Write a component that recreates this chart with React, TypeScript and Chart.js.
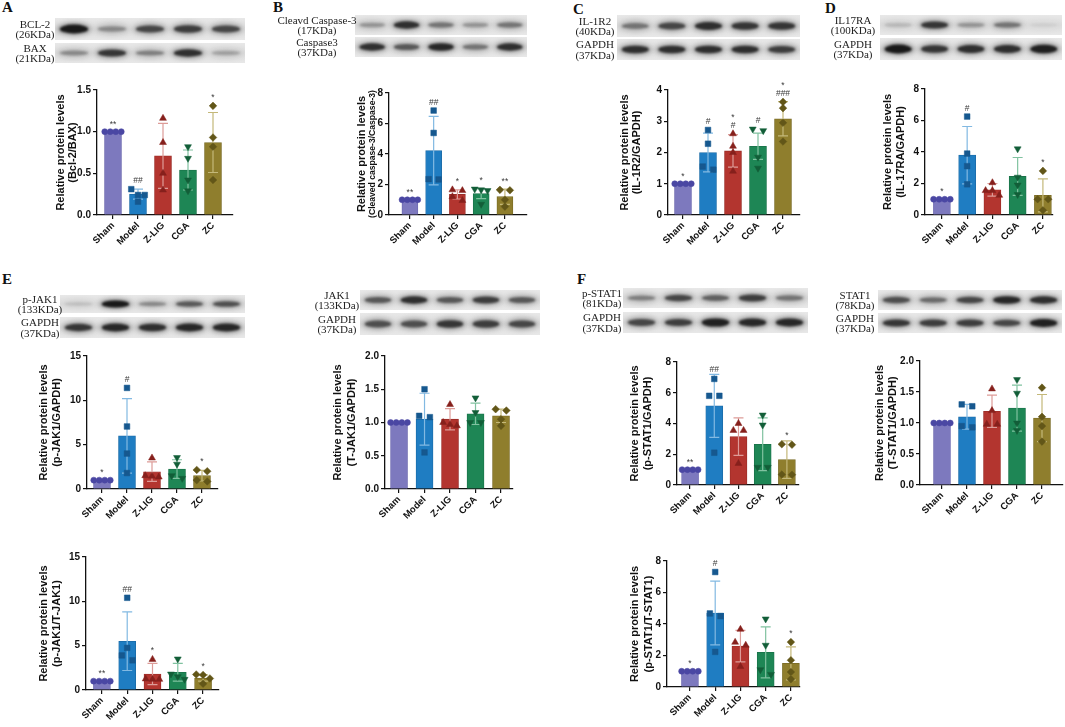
import React, { useEffect, useRef } from "react";
import { Chart, registerables } from "chart.js";
Chart.register(...registerables);

const FONT = "'Liberation Sans', Arial, Helvetica, sans-serif";
const SERIF = "'Liberation Serif', 'Times New Roman', Times, serif";

// ---------- shared categories & styles ----------
const groups = ["Sham", "Model", "Z-LIG", "CGA", "ZC"];
const barColors = ["#7d79be", "#1f7dc2", "#b3352f", "#1e8655", "#8f7e2d"];
const barEdges = ["#6a66ad", "#1a6aa6", "#9a2c27", "#197048", "#786a25"];
const pointColors = ["#4a47a3", "#16588f", "#86201c", "#125e38", "#625618"];
const errColors = ["#aeabd9", "#82b9e2", "#dd9c98", "#80c2a0", "#c4b879"];
const pointStyles = ["circle", "rect", "triangle", "triangle", "rectRot"];
const pointRotations = [0, 0, 0, 180, 0];
const pointRadii = [3, 4, 4, 4, 3.8];

// ---------- A: Bcl-2 / BAX ----------
const bclBaxMeans = [1.0, 0.25, 0.71, 0.54, 0.87];
const bclBaxSD = [0, 0.06, 0.39, 0.24, 0.36];
const bclBaxPoints = [[1, 1, 1, 1], [0.31, 0.24, 0.24, 0.16], [1.16, 0.87, 0.5, 0.3], [0.82, 0.68, 0.42, 0.29], [1.31, 0.93, 0.82, 0.42]];
const bclBaxSig = ["**", "##", "", "", "*"];
const bclBaxTicks = ["0.0", "0.5", "1.0", "1.5"];

// ---------- B: cleaved caspase-3 / caspase-3 ----------
const casMeans = [1.0, 4.22, 1.35, 1.4, 1.2];
const casSD = [0.03, 2.25, 0.3, 0.32, 0.5];
const casPoints = [[1, 1, 1, 1], [6.85, 5.38, 2.33, 2.35], [1.65, 1.6, 1.2, 0.95], [1.7, 1.65, 1.6, 0.7], [1.65, 1.62, 1.0, 0.55]];
const casSig = ["**", "##", "*", "*", "**"];
const casTicks = ["0", "2", "4", "6", "8"];

// ---------- C: IL-1R2 / GAPDH ----------
const il1r2Means = [1.0, 2.0, 2.05, 2.2, 3.08];
const il1r2SD = [0.02, 0.62, 0.52, 0.42, 0.55];
const il1r2Points = [[1, 1, 1, 1], [2.72, 2.28, 1.55, 1.45], [2.6, 2.2, 2.0, 1.4], [2.75, 2.7, 1.85, 1.5], [3.62, 3.42, 2.95, 2.35]];
const il1r2Sig = ["*", "#", "*\n#", "#", "*\n###"];
const il1r2Ticks = ["0", "1", "2", "3", "4"];

// ---------- D: IL-17RA / GAPDH ----------
const il17Means = [1.0, 3.8, 1.6, 2.45, 1.25];
const il17SD = [0.03, 1.82, 0.4, 1.2, 1.05];
const il17Points = [[1, 1, 1, 1], [6.25, 3.9, 3.1, 1.95], [2.05, 1.55, 1.55, 1.25], [4.2, 2.4, 1.9, 1.3], [2.8, 1.0, 1.0, 0.3]];
const il17Sig = ["*", "#", "", "", "*"];
const il17Ticks = ["0", "2", "4", "6", "8"];

// ---------- E: p-JAK1 / GAPDH ----------
const pJakMeans = [1.0, 6.0, 1.95, 2.25, 1.5];
const pJakSD = [0.05, 4.2, 1.1, 1.05, 0.6];
const pJakPoints = [[1, 1, 1, 1], [11.4, 7.05, 4.0, 1.8], [3.5, 1.5, 1.45, 1.35], [3.55, 2.8, 1.5, 1.2], [2.15, 2.0, 1.0, 0.85]];
const pJakSig = ["*", "#", "", "", "*"];
const pJakTicks = ["0", "5", "10", "15"];

// ---------- E: T-JAK1 / GAPDH ----------
const tJakMeans = [1.0, 1.05, 1.05, 1.13, 1.1];
const tJakSD = [0, 0.39, 0.16, 0.16, 0.1];
const tJakPoints = [[1, 1, 1, 1], [1.5, 1.1, 1.08, 0.55], [1.27, 1.0, 0.97, 0.95], [1.37, 1.15, 1.0, 1.0], [1.2, 1.18, 1.05, 0.95]];
const tJakSig = ["", "", "", "", ""];
const tJakTicks = ["0.0", "0.5", "1.0", "1.5", "2.0"];

// ---------- E: p-JAK1 / T-JAK1 ----------
const jakRatioMeans = [1.0, 5.5, 1.8, 2.0, 1.35];
const jakRatioSD = [0.05, 3.3, 1.2, 1.0, 0.35];
const jakRatioPoints = [[1, 1, 1, 1], [10.4, 4.75, 3.9, 3.35], [3.45, 1.25, 1.2, 1.2], [3.5, 1.8, 1.5, 1.2], [1.75, 1.7, 1.3, 0.7]];
const jakRatioSig = ["**", "##", "*", "", "*"];
const jakRatioTicks = ["0", "5", "10", "15"];

// ---------- F: p-STAT1 / GAPDH ----------
const pStatMeans = [1.0, 5.15, 3.15, 2.65, 1.65];
const pStatSD = [0.03, 2.05, 1.22, 1.72, 1.22];
const pStatPoints = [[1, 1, 1, 1], [6.9, 5.8, 5.8, 2.1], [4.0, 3.55, 3.55, 1.4], [4.55, 3.9, 1.15, 1.15], [2.65, 2.62, 0.68, 0.67]];
const pStatSig = ["**", "##", "", "", "*"];
const pStatTicks = ["0", "2", "4", "6", "8"];

// ---------- F: T-STAT1 / GAPDH ----------
const tStatMeans = [1.0, 1.1, 1.19, 1.24, 1.08];
const tStatSD = [0, 0.2, 0.26, 0.37, 0.38];
const tStatPoints = [[1, 1, 1, 1], [1.3, 1.27, 0.95, 0.93], [1.55, 1.2, 0.98, 0.98], [1.7, 1.48, 1.0, 0.88], [1.57, 1.1, 0.95, 0.7]];
const tStatSig = ["", "", "", "", ""];
const tStatTicks = ["0.0", "0.5", "1.0", "1.5", "2.0"];

// ---------- F: p-STAT1 / T-STAT1 ----------
const statRatioMeans = [1.0, 4.7, 2.6, 2.2, 1.5];
const statRatioSD = [0.05, 2.02, 1.0, 1.62, 1.05];
const statRatioPoints = [[1, 1, 1, 1], [7.3, 4.67, 4.5, 2.23], [3.66, 2.84, 2.65, 1.3], [4.32, 2.65, 1.1, 0.8], [2.85, 1.7, 0.95, 0.5]];
const statRatioSig = ["*", "#", "", "", "*"];
const statRatioTicks = ["0", "2", "4", "6", "8"];

// ---------- western blot band intensities (Sham, Model, Z-LIG, CGA, ZC) ----------
const bcl2Bands = [1.0, 0.35, 0.7, 0.75, 0.7];
const baxBands = [0.35, 0.8, 0.4, 0.85, 0.25];
const cleavedCasBands = [0.3, 0.85, 0.45, 0.3, 0.45];
const caspase3Bands = [0.85, 0.6, 0.9, 0.45, 0.85];
const il1r2Bands = [0.45, 0.7, 0.85, 0.8, 0.8];
const gapdhCBands = [0.85, 0.85, 0.85, 0.85, 0.75];
const il17raBands = [0.15, 0.8, 0.3, 0.45, 0.05];
const gapdhDBands = [1.0, 0.8, 0.85, 0.85, 0.95];
const pJak1Bands = [0.12, 1.0, 0.35, 0.6, 0.65];
const gapdhE1Bands = [0.8, 0.9, 0.85, 0.9, 0.9];
const jak1Bands = [0.6, 0.85, 0.6, 0.75, 0.6];
const gapdhE2Bands = [0.65, 0.65, 0.8, 0.75, 0.7];
const pStat1Bands = [0.4, 0.7, 0.55, 0.75, 0.45];
const gapdhF1Bands = [0.7, 0.75, 0.95, 0.9, 0.9];
const stat1Bands = [0.65, 0.5, 0.7, 0.9, 0.85];
const gapdhF2Bands = [0.8, 0.75, 0.75, 0.7, 0.95];

// ---------- layout ----------
type Box = { tx: number[]; ax: number; ar: number; ty: number; by: number; xmin: number; xmax: number; bw: number };
type Cfg = { title: string[]; means: number[]; sds: number[]; pts: number[][]; sig: string[]; ticks: string[]; box: Box };

const charts: Cfg[] = [
  { title: ["Relative protein levels", "(Bcl-2/BAX)"], means: bclBaxMeans, sds: bclBaxSD, pts: bclBaxPoints, sig: bclBaxSig, ticks: bclBaxTicks,
    box: { tx: [61, 73], ax: 97, ar: 233, ty: 90, by: 215, xmin: 0.36, xmax: 5.8, bw: 17 } },
  { title: ["Relative protein levels", "(Cleaved caspase-3/Caspase-3)"], means: casMeans, sds: casSD, pts: casPoints, sig: casSig, ticks: casTicks,
    box: { tx: [362, 373], ax: 389, ar: 527, ty: 93, by: 215, xmin: 0.12, xmax: 5.93, bw: 16 } },
  { title: ["Relative protein levels", "(IL-1R2/GAPDH)"], means: il1r2Means, sds: il1r2SD, pts: il1r2Points, sig: il1r2Sig, ticks: il1r2Ticks,
    box: { tx: [625, 637], ax: 668, ar: 800, ty: 90, by: 215, xmin: 0.4, xmax: 5.68, bw: 17 } },
  { title: ["Relative protein levels", "(IL-17RA/GAPDH)"], means: il17Means, sds: il17SD, pts: il17Points, sig: il17Sig, ticks: il17Ticks,
    box: { tx: [888, 901], ax: 925, ar: 1053, ty: 89, by: 215, xmin: 0.33, xmax: 5.4, bw: 17 } },
  { title: ["Relative protein levels", "(p-JAK1/GAPDH)"], means: pJakMeans, sds: pJakSD, pts: pJakPoints, sig: pJakSig, ticks: pJakTicks,
    box: { tx: [44, 57], ax: 87, ar: 218, ty: 356, by: 489, xmin: 0.4, xmax: 5.64, bw: 17 } },
  { title: ["Relative protein levels", "(T-JAK1/GAPDH)"], means: tJakMeans, sds: tJakSD, pts: tJakPoints, sig: tJakSig, ticks: tJakTicks,
    box: { tx: [338, 352], ax: 385, ar: 513, ty: 356, by: 489, xmin: 0.45, xmax: 5.47, bw: 17 } },
  { title: ["Relative protein levels", "(p-STAT1/GAPDH)"], means: pStatMeans, sds: pStatSD, pts: pStatPoints, sig: pStatSig, ticks: pStatTicks,
    box: { tx: [635, 648], ax: 677, ar: 799, ty: 362, by: 485, xmin: 0.46, xmax: 5.5, bw: 17 } },
  { title: ["Relative protein levels", "(T-STAT1/GAPDH)"], means: tStatMeans, sds: tStatSD, pts: tStatPoints, sig: tStatSig, ticks: tStatTicks,
    box: { tx: [880, 893], ax: 920, ar: 1063, ty: 361, by: 485, xmin: 0.12, xmax: 5.84, bw: 17 } },
  { title: ["Relative protein levels", "(p-JAK1/T-JAK1)"], means: jakRatioMeans, sds: jakRatioSD, pts: jakRatioPoints, sig: jakRatioSig, ticks: jakRatioTicks,
    box: { tx: [44, 57], ax: 86, ar: 219, ty: 557, by: 690, xmin: 0.37, xmax: 5.63, bw: 17 } },
  { title: ["Relative protein levels", "(p-STAT1/T-STAT1)"], means: statRatioMeans, sds: statRatioSD, pts: statRatioPoints, sig: statRatioSig, ticks: statRatioTicks,
    box: { tx: [635, 649], ax: 667, ar: 800, ty: 561, by: 687, xmin: 0.09, xmax: 5.36, bw: 17 } },
];

type Row = { x: number; y: number; w: number; h: number; bands: number[]; label: string[]; lx: number };
const blotRows: Row[] = [
  { x: 55, y: 18, w: 190, h: 22, bands: bcl2Bands, label: ["BCL-2", "(26KDa)"], lx: 35 },
  { x: 55, y: 43, w: 190, h: 20, bands: baxBands, label: ["BAX", "(21KDa)"], lx: 35 },
  { x: 355, y: 15, w: 172, h: 20, bands: cleavedCasBands, label: ["Cleavd Caspase-3", "(17KDa)"], lx: 317 },
  { x: 355, y: 37, w: 172, h: 20, bands: caspase3Bands, label: ["Caspase3", "(37KDa)"], lx: 317 },
  { x: 617, y: 15, w: 183, h: 22, bands: il1r2Bands, label: ["IL-1R2", "(40KDa)"], lx: 595 },
  { x: 617, y: 39, w: 183, h: 21, bands: gapdhCBands, label: ["GAPDH", "(37KDa)"], lx: 595 },
  { x: 880, y: 15, w: 182, h: 20, bands: il17raBands, label: ["IL17RA", "(100KDa)"], lx: 853 },
  { x: 880, y: 38, w: 182, h: 22, bands: gapdhDBands, label: ["GAPDH", "(37KDa)"], lx: 853 },
  { x: 60, y: 295, w: 185, h: 18, bands: pJak1Bands, label: ["p-JAK1", "(133KDa)"], lx: 40 },
  { x: 60, y: 317, w: 185, h: 21, bands: gapdhE1Bands, label: ["GAPDH", "(37KDa)"], lx: 40 },
  { x: 360, y: 290, w: 180, h: 20, bands: jak1Bands, label: ["JAK1", "(133KDa)"], lx: 337 },
  { x: 360, y: 313, w: 180, h: 22, bands: gapdhE2Bands, label: ["GAPDH", "(37KDa)"], lx: 337 },
  { x: 623, y: 288, w: 185, h: 20, bands: pStat1Bands, label: ["p-STAT1", "(81KDa)"], lx: 602 },
  { x: 623, y: 312, w: 185, h: 21, bands: gapdhF1Bands, label: ["GAPDH", "(37KDa)"], lx: 602 },
  { x: 878, y: 290, w: 184, h: 20, bands: stat1Bands, label: ["STAT1", "(78KDa)"], lx: 855 },
  { x: 878, y: 313, w: 184, h: 20, bands: gapdhF2Bands, label: ["GAPDH", "(37KDa)"], lx: 855 },
];

const panelLetters = [
  { t: "A", x: 2, y: 0 }, { t: "B", x: 273, y: 0 }, { t: "C", x: 573, y: 1.5 },
  { t: "D", x: 825, y: 0.5 }, { t: "E", x: 2, y: 272 }, { t: "F", x: 577, y: 272 },
];

// horizontal spreading of coincident points (beeswarm-like)
function spread(vals: number[], unitPx: number): number[] {
  const order = vals.map((_, i) => i).sort((a, b) => vals[b] - vals[a]);
  const off = new Array(vals.length).fill(0);
  let cluster: number[] = [];
  const flush = () => {
    const n = cluster.length;
    const sp = n === 2 ? 0.42 : n === 3 ? 0.27 : 0.22;
    cluster.forEach((id, k) => { off[id] = (k - (n - 1) / 2) * sp; });
    cluster = [];
  };
  order.forEach((id) => {
    if (cluster.length && Math.abs(vals[cluster[0]] - vals[id]) * unitPx > 6) flush();
    cluster.push(id);
  });
  flush();
  return off;
}

function BarChart({ cfg }: { cfg: Cfg }) {
  const ref = useRef<HTMLCanvasElement>(null);
  const PT = 20, XH = 42, PR = 5;
  const b = cfg.box;
  const left = Math.floor(Math.min(...b.tx) - 10);
  const yW = b.ax - left;
  const width = Math.ceil(yW + b.ar - b.ax + PR);
  const top = b.ty - PT;
  const height = PT + b.by - b.ty + XH;

  useEffect(() => {
    const yVals = cfg.ticks.map(Number);
    const yMax = yVals[yVals.length - 1];
    const unitPx = (b.by - b.ty) / yMax;
    const datasets: any[] = cfg.pts.map((vals, g) => {
      const off = spread(vals, unitPx);
      return {
        type: "scatter",
        data: vals.map((v, k) => ({ x: g + 1 + off[k], y: v })),
        pointStyle: pointStyles[g],
        rotation: pointRotations[g],
        pointRadius: pointRadii[g],
        backgroundColor: pointColors[g],
        borderColor: pointColors[g],
        borderWidth: 0.5,
        order: 0,
        clip: false,
      };
    });
    datasets.push({
      type: "bar",
      data: cfg.means.map((m, i) => ({ x: i + 1, y: m })),
      backgroundColor: barColors,
      borderColor: barEdges,
      borderWidth: 0.8,
      barThickness: b.bw,
      order: 10,
    });

    const decor = {
      id: "decor",
      afterDatasetDraw(chart: any, args: any) {
        if (args.meta.type !== "bar") return;
        const { ctx, scales } = chart;
        ctx.save();
        ctx.lineWidth = 1.2;
        cfg.means.forEach((m, i) => {
          const sd = cfg.sds[i];
          if (!(sd > 0.001)) return;
          const x = scales.x.getPixelForValue(i + 1);
          const y1 = scales.y.getPixelForValue(m + sd);
          const y0 = scales.y.getPixelForValue(Math.max(0, m - sd));
          ctx.strokeStyle = errColors[i];
          ctx.beginPath();
          ctx.moveTo(x, y0); ctx.lineTo(x, y1);
          ctx.moveTo(x - 5, y1); ctx.lineTo(x + 5, y1);
          ctx.moveTo(x - 5, y0); ctx.lineTo(x + 5, y0);
          ctx.stroke();
        });
        ctx.restore();
      },
      afterDatasetsDraw(chart: any) {
        const { ctx, scales } = chart;
        ctx.save();
        ctx.fillStyle = "#3a3a3a";
        ctx.font = `8.5px ${FONT}`;
        ctx.textAlign = "center";
        ctx.textBaseline = "alphabetic";
        cfg.sig.forEach((s, i) => {
          if (!s) return;
          const x = scales.x.getPixelForValue(i + 1);
          const topPt = Math.max(...cfg.pts[i]);
          const yPt = scales.y.getPixelForValue(topPt) - pointRadii[i];
          const yErr = scales.y.getPixelForValue(cfg.means[i] + cfg.sds[i]);
          const y = Math.min(yPt, yErr) - 2;
          const lines = s.split("\n").reverse();
          lines.forEach((ln, k) => ctx.fillText(ln, x, y - k * 8));
        });
        ctx.restore();
      },
      afterDraw(chart: any) {
        const { ctx, chartArea } = chart;
        const cy = (chartArea.top + chartArea.bottom) / 2;
        const limit = chartArea.bottom - chartArea.top + 6;
        ctx.save();
        ctx.fillStyle = "#111";
        ctx.textAlign = "center";
        ctx.textBaseline = "middle";
        cfg.title.forEach((t, k) => {
          let size = 11;
          ctx.font = `bold ${size}px ${FONT}`;
          const w = ctx.measureText(t).width;
          if (w > limit) { size = (size * limit) / w; ctx.font = `bold ${size}px ${FONT}`; }
          ctx.save();
          ctx.translate(b.tx[k] - left, cy);
          ctx.rotate(-Math.PI / 2);
          ctx.fillText(t, 0, 0);
          ctx.restore();
        });
        ctx.restore();
      },
    };

    const axisCommon = {
      grid: { offset: false, drawOnChartArea: false, drawTicks: true, tickLength: 4, color: "#111", lineWidth: 1.2 },
      border: { display: true, color: "#111", width: 1.3 },
    };

    const chart = new Chart(ref.current as HTMLCanvasElement, {
      type: "bar",
      data: { datasets },
      plugins: [decor],
      options: {
        responsive: false,
        animation: false,
        events: [],
        layout: { padding: { top: PT, right: PR, left: 0, bottom: 0 } },
        plugins: { legend: { display: false }, tooltip: { enabled: false }, title: { display: false } },
        scales: {
          x: {
            type: "linear",
            min: b.xmin,
            max: b.xmax,
            offset: false,
            afterBuildTicks: (s: any) => { s.ticks = groups.map((_, i) => ({ value: i + 1 })); },
            afterFit: (s: any) => { s.height = XH; },
            ticks: {
              autoSkip: false,
              minRotation: 45,
              maxRotation: 45,
              padding: 1,
              color: "#111",
              font: { family: FONT, size: 9.5, weight: "bold" },
              callback: (v: any) => groups[Math.round(Number(v)) - 1] ?? "",
            },
            ...axisCommon,
          },
          y: {
            type: "linear",
            min: 0,
            max: yMax,
            afterBuildTicks: (s: any) => { s.ticks = yVals.map((v) => ({ value: v })); },
            afterFit: (s: any) => { s.width = yW; },
            ticks: {
              padding: 2,
              color: "#111",
              font: { family: FONT, size: 10, weight: "bold" },
              callback: (_v: any, i: number) => cfg.ticks[i],
            },
            ...axisCommon,
          },
        },
      } as any,
    });
    return () => chart.destroy();
  }, []);

  return (
    <canvas
      ref={ref}
      width={width}
      height={height}
      style={{ position: "absolute", left, top, width, height }}
    />
  );
}

function Blot({ row }: { row: Row }) {
  const ref = useRef<HTMLCanvasElement>(null);
  useEffect(() => {
    const c = ref.current as HTMLCanvasElement;
    const dpr = window.devicePixelRatio || 1;
    c.width = Math.round(row.w * dpr);
    c.height = Math.round(row.h * dpr);
    const ctx = c.getContext("2d") as CanvasRenderingContext2D;
    ctx.scale(dpr, dpr);
    const g = ctx.createLinearGradient(0, 0, 0, row.h);
    g.addColorStop(0, "#e8e8e8");
    g.addColorStop(0.5, "#dcdcdc");
    g.addColorStop(1, "#e8e8e8");
    ctx.fillStyle = g;
    ctx.fillRect(0, 0, row.w, row.h);
    const lane = row.w / 5;
    row.bands.forEach((a, i) => {
      const cx = lane * (i + 0.5);
      const cy = row.h * 0.5;
      ctx.filter = "blur(2.5px)";
      ctx.fillStyle = `rgba(40,40,40,${0.45 * a})`;
      ctx.beginPath();
      ctx.ellipse(cx, cy, lane * 0.44, row.h * 0.28, 0, 0, Math.PI * 2);
      ctx.fill();
      ctx.filter = "blur(1.3px)";
      ctx.fillStyle = `rgba(5,5,5,${0.85 * a})`;
      ctx.beginPath();
      ctx.ellipse(cx, cy, lane * 0.37, row.h * (0.08 + 0.12 * a), 0, 0, Math.PI * 2);
      ctx.fill();
    });
    ctx.filter = "none";
  }, []);
  return <canvas ref={ref} style={{ position: "absolute", left: row.x, top: row.y, width: row.w, height: row.h }} />;
}

function BlotLabel({ row }: { row: Row }) {
  const lh = 10.5;
  return (
    <div
      style={{
        position: "absolute",
        left: row.lx - 60,
        width: 120,
        top: row.y + row.h / 2 - (row.label.length * lh) / 2,
        textAlign: "center",
        fontFamily: SERIF,
        fontSize: 11,
        lineHeight: `${lh}px`,
        color: "#222",
        whiteSpace: "nowrap",
      }}
    >
      {row.label.map((l, i) => (
        <div key={i}>{l}</div>
      ))}
    </div>
  );
}

export default function App() {
  return (
    <div style={{ position: "absolute", left: 0, top: 0, width: 1065, height: 727, background: "#fff", overflow: "hidden" }}>
      {panelLetters.map((p) => (
        <div
          key={p.t}
          style={{ position: "absolute", left: p.x, top: p.y, fontFamily: SERIF, fontWeight: "bold", fontSize: 15, lineHeight: "15px", color: "#111" }}
        >
          {p.t}
        </div>
      ))}
      {blotRows.map((r, i) => (
        <React.Fragment key={i}>
          <Blot row={r} />
          <BlotLabel row={r} />
        </React.Fragment>
      ))}
      {charts.map((c, i) => (
        <BarChart key={i} cfg={c} />
      ))}
    </div>
  );
}
